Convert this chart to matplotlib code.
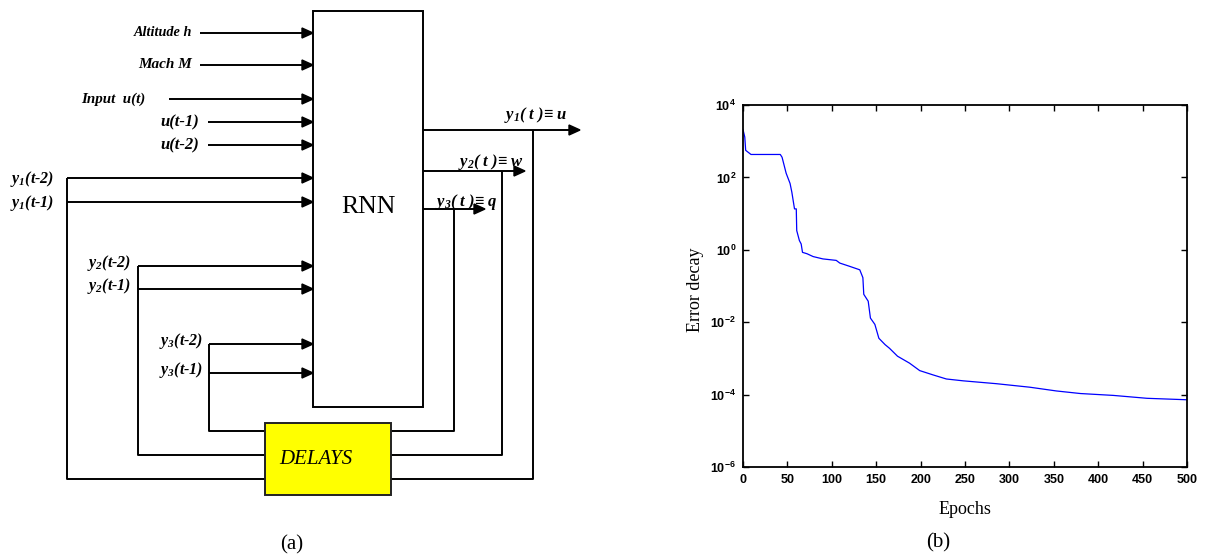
"""RNN plant-model diagram (a) and its training error curve (b)."""

import matplotlib

matplotlib.use("Agg")
import matplotlib.pyplot as plt
from matplotlib.patches import Polygon, Rectangle
from matplotlib.ticker import FixedLocator, NullLocator

# training error read per epoch
epochs = [0, 2, 3, 9, 42, 44, 48.6, 53, 55, 58, 60, 60.5, 63.5, 65.5, 67, 72, 79,
          90, 105, 109, 120, 131.5, 135, 136, 141, 143.5, 148.5, 153, 160, 165,
          174, 187.5, 199, 214, 229, 248, 285.5, 323, 353, 380, 417, 455, 500]
error = [2100, 1300, 560, 430, 430, 360, 130, 68, 39, 13.5, 13.5, 3.4, 1.8, 1.45,
         0.85, 0.78, 0.65, 0.56, 0.51, 0.43, 0.35, 0.28, 0.17, 0.059, 0.038,
         0.013, 0.0087, 0.0036, 0.0024, 0.0019, 0.00115, 0.00074, 0.00046,
         0.00035, 0.00027, 0.00024, 0.0002, 0.00016, 0.000126, 0.000107,
         0.000095, 0.000079, 0.000072]
x_ticks = list(range(0, 501, 50))
y_ticks = [1e-6, 1e-4, 1e-2, 1e0, 1e2, 1e4]

# diagram inputs: label, row, where the line starts, label right edge, size
ext_inputs = [("Altitude h", 33, 200, 192, 10.3), ("Mach M", 65, 200, 192, 11),
              ("Input  u(t)", 99, 169, 145, 10.8), ("u(t-1)", 122, 208, 199, 12),
              ("u(t-2)", 145, 208, 199, 12)]
# fed-back outputs: label, rows of the two delayed inputs, loop column,
# output row, arrow tip, feedback column, loop bottom row
outputs = [("1", (178, 202), 67, 130, 580, 533, 479),
           ("2", (266, 289), 138, 171, 525, 502, 455),
           ("3", (344, 373), 209, 209, 485, 454, 431)]
out_symbols = ["u", "w", "q"]
out_label_pos = [(504, 115), (458, 162), (435, 202)]
delay_label_x = [10, 131, 203]

W, H = 1218, 559
RNN_L, RNN_R, RNN_T, RNN_B = 313, 423, 11, 407
DEL_L, DEL_R, DEL_T, DEL_B = 265, 391, 423, 495

plt.rcParams["font.family"] = ["Liberation Sans", "DejaVu Sans"]
plt.rcParams["mathtext.rm"] = "Liberation Serif:italic:bold"
plt.rcParams["mathtext.it"] = "Liberation Serif:italic:bold"
plt.rcParams["mathtext.bf"] = "Liberation Serif:italic:bold"
SERIF = ["Liberation Serif", "DejaVu Serif"]
LW = 1.4

fig = plt.figure(figsize=(W / 100, H / 100), dpi=100)
dax = fig.add_axes([0, 0, 1, 1])
dax.set_xlim(0, W)
dax.set_ylim(H, 0)
dax.axis("off")


def line(xs, ys):
    dax.plot(xs, ys, color="black", lw=LW, solid_capstyle="butt", zorder=2)


def arrow(x0, x1, y):
    line([x0, x1 - 8], [y, y])
    dax.add_patch(Polygon([(x1, y), (x1 - 11, y - 5), (x1 - 11, y + 5)],
                          closed=True, color="black", zorder=3))


def label(x, y, s, ha, size=10):
    dax.text(x, y, s, ha=ha, va="center", fontsize=size, family=SERIF,
             style="italic", weight="bold", math_fontfamily="custom")


for name, y, x0, xr, size in ext_inputs:
    arrow(x0, RNN_L, y)
    label(xr, y, name, "right", size)

for (k, rows, xc, y_out, tip, xf, y_bot), lx in zip(outputs, delay_label_x):
    # delayed copies entering the RNN
    for y, lag in zip(rows, ("2", "1")):
        arrow(xc, RNN_L, y)
        if k == "1":
            label(lx, y + 1, rf"$y_{k}$(t-{lag})", "left", 11.5)
        else:
            label(lx, y - 3, rf"$y_{k}$(t-{lag})", "right", 11.5)
    line([xc, xc, DEL_L], [rows[0], y_bot, y_bot])
    # output leaving the RNN and looping back to the delays
    arrow(RNN_R, tip, y_out)
    line([xf, xf, DEL_R], [y_out, y_bot, y_bot])

for (k, *_), sym, (lx, ly) in zip(outputs, out_symbols, out_label_pos):
    label(lx, ly, rf"$y_{k}$( t )≡ {sym}", "left", size=12)

dax.add_patch(Rectangle((RNN_L, RNN_T), RNN_R - RNN_L, RNN_B - RNN_T,
                        fill=False, edgecolor="black", lw=LW, zorder=4))
dax.add_patch(Rectangle((DEL_L, DEL_T), DEL_R - DEL_L, DEL_B - DEL_T,
                        facecolor="#ffff00", edgecolor="#222222", lw=LW, zorder=4))
dax.text((RNN_L + RNN_R) / 2, 207, "RNN", ha="center", va="center",
         fontsize=18.5, family=SERIF)
dax.text(279, 460, "DELAYS", ha="left", va="center", fontsize=15,
         family=SERIF, style="italic", zorder=5)
dax.text(292, 545, "(a)", ha="center", va="center", fontsize=15, family=SERIF)
dax.text(938, 543, "(b)", ha="center", va="center", fontsize=15, family=SERIF)

# error decay curve
ax = fig.add_axes([743 / W, 1 - 467 / H, (1187 - 743) / W, (467 - 105) / H])
ax.semilogy(epochs, error, color=(0, 0, 1), lw=0.9)
ax.set_xlim(0, 500)
ax.set_ylim(1e-6, 1e4)
ax.set_xticks(x_ticks)
ax.yaxis.set_major_locator(FixedLocator(y_ticks))
ax.yaxis.set_minor_locator(NullLocator())
ax.tick_params(direction="in", top=True, right=True, length=4, width=1,
               labelsize=9, pad=5)
for lab in ax.get_xticklabels() + ax.get_yticklabels():
    lab.set_fontweight("bold")
for sp in ax.spines.values():
    sp.set_linewidth(1.3)
ax.set_xlabel("Epochs", family=SERIF, fontsize=13, va="center")
ax.xaxis.set_label_coords(0.5, (467 - 510) / 362)
ax.set_ylabel("Error decay", family=SERIF, fontsize=13, va="center")
ax.yaxis.set_label_coords((695 - 743) / 444, 0.49)

fig.savefig("out.png", dpi=100)
plt.close(fig)
